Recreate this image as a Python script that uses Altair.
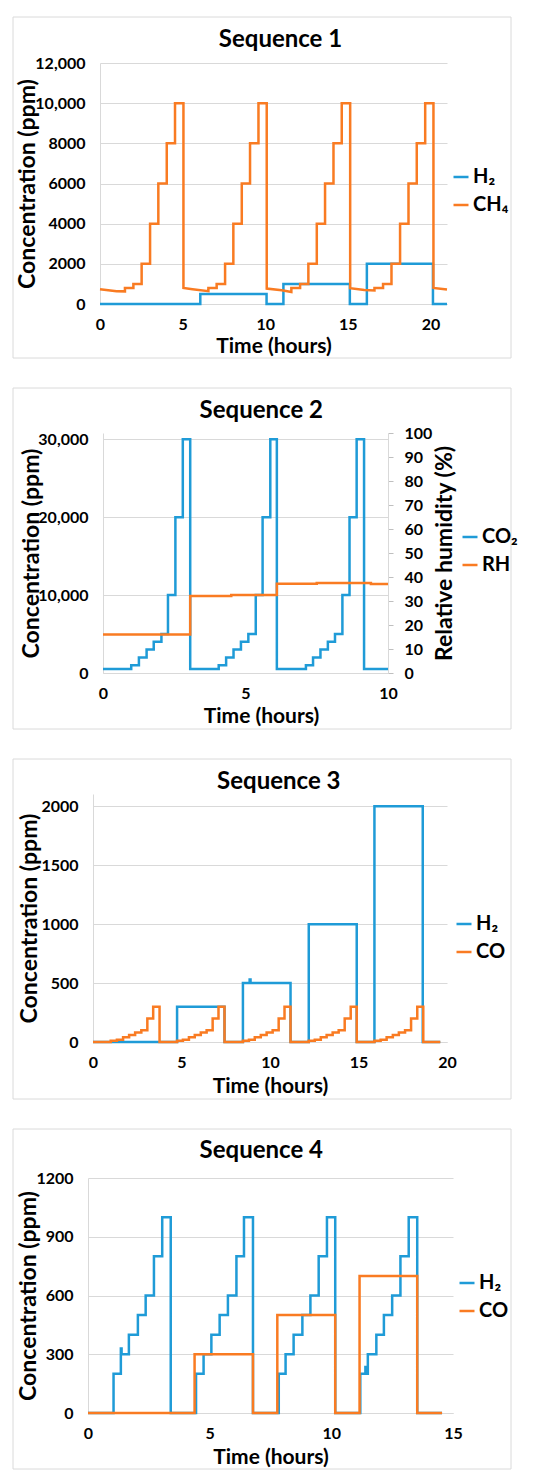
import altair as alt
import pandas as pd

BLUE = "#1F9BD7"
ORANGE = "#F97B22"
GRID = "#D9D9D9"
BOX = "#DADADA"
FONT = "Lato, Noto Sans, sans-serif"

# ---------------- Sequence 1 ----------------
s1_h2_t = [0, 6.07, 10.08, 11.1, 15.12, 16.15, 20.15, 21.0]
s1_h2_v = [0, 500, 0, 1000, 0, 2000, 0, 0]

s1_ch4_t = [0, 1.0, 1.51, 1.51, 2.02, 2.02, 2.52, 2.52, 3.03, 3.03, 3.53, 3.53, 4.04, 4.04, 4.54, 4.54, 5.05, 5.05,
            5.6, 6.56, 6.56, 7.06, 7.06, 7.57, 7.57, 8.07, 8.07, 8.58, 8.58, 9.08, 9.08, 9.59, 9.59, 10.09, 10.09,
            11.0, 11.58, 11.58, 12.11, 12.11, 12.61, 12.61, 13.12, 13.12, 13.62, 13.62, 14.13, 14.13, 14.63, 14.63, 15.14, 15.14,
            16.0, 16.61, 16.61, 17.13, 17.13, 17.64, 17.64, 18.16, 18.16, 18.67, 18.67, 19.17, 19.17, 19.68, 19.68, 20.18, 20.18,
            21.0]
s1_ch4_v = [730, 640, 630, 800, 800, 1000, 1000, 2000, 2000, 4000, 4000, 6000, 6000, 8000, 8000, 10000, 10000, 800,
            740, 640, 800, 800, 1000, 1000, 2000, 2000, 4000, 4000, 6000, 6000, 8000, 8000, 10000, 10000, 770,
            680, 600, 800, 800, 1000, 1000, 2000, 2000, 4000, 4000, 6000, 6000, 8000, 8000, 10000, 10000, 790,
            700, 670, 800, 800, 1000, 1000, 2000, 2000, 4000, 4000, 6000, 6000, 8000, 8000, 10000, 10000, 800,
            720]

# ---------------- Sequence 2 ----------------
s2_co2_t = [0, 0.99, 1.26, 1.53, 1.78, 2.05, 2.28, 2.54, 2.8, 3.06,
            4.06, 4.32, 4.58, 4.84, 5.1, 5.36, 5.6, 5.87, 6.1,
            7.12, 7.37, 7.63, 7.89, 8.14, 8.4, 8.65, 8.9, 9.16, 10.0]
s2_co2_v = [500, 1000, 2000, 3000, 4000, 5000, 10000, 20000, 30000, 500,
            1000, 2000, 3000, 4000, 5000, 10000, 20000, 30000, 500,
            1000, 2000, 3000, 4000, 5000, 10000, 20000, 30000, 500, 500]
s2_rh_t = [0, 3.06, 4.5, 6.1, 7.5, 9.4, 10.0]
s2_rh_v = [16.0, 32.1, 32.5, 37.2, 37.5, 37.1, 37.1]

# ---------------- Sequence 3 ----------------
s3_h2_t = [0, 4.75, 7.43, 8.47, 8.85, 8.9, 11.16, 12.19, 14.9, 15.9, 18.63, 19.62]
s3_h2_v = [0, 300, 0, 500, 530, 500, 0, 1000, 0, 2000, 0, 0]
s3_co_t = [0, 1.0, 1.35, 1.7, 2.04, 2.38, 2.73, 3.07, 3.4, 3.76,
           4.75, 5.08, 5.42, 5.75, 6.09, 6.42, 6.76, 7.09, 7.43,
           8.47, 8.81, 9.14, 9.48, 9.81, 10.15, 10.49, 10.82, 11.16,
           12.19, 12.53, 12.87, 13.2, 13.54, 13.88, 14.22, 14.56, 14.9,
           15.9, 16.25, 16.59, 16.94, 17.28, 17.63, 17.97, 18.32, 18.66, 19.62]
s3_co_v = [0, 10, 20, 40, 60, 80, 100, 200, 300, 0,
           10, 20, 40, 60, 80, 100, 200, 300, 0,
           10, 20, 40, 60, 80, 100, 200, 300, 0,
           10, 20, 40, 60, 80, 100, 200, 300, 0,
           10, 20, 40, 60, 80, 100, 200, 300, 0, 0]

# ---------------- Sequence 4 ----------------
s4_h2_t = [0, 1.05, 1.35, 1.38, 1.68, 2.05, 2.37, 2.71, 3.05, 3.4,
           4.44, 4.75, 5.07, 5.41, 5.75, 6.1, 6.41, 6.78,
           7.84, 8.12, 8.45, 8.81, 9.14, 9.48, 9.82, 10.16,
           11.19, 11.4, 11.43, 11.5, 11.85, 12.16, 12.5, 12.84, 13.18, 13.53, 14.55]
s4_h2_v = [0, 200, 330, 300, 400, 500, 600, 800, 1000, 0,
           200, 300, 400, 500, 600, 800, 1000, 0,
           200, 300, 400, 500, 600, 800, 1000, 0,
           200, 235, 200, 300, 400, 500, 600, 800, 1000, 0, 0]
s4_co_t = [0, 4.38, 6.78, 7.78, 10.16, 11.16, 13.53, 14.55]
s4_co_v = [0, 300, 0, 500, 0, 700, 0, 0]


def frame(times, values, name):
    return pd.DataFrame({"t": times, "v": values, "s": name, "i": list(range(len(times)))})


def box(x1, x2, y1, y2):
    return alt.Chart(pd.DataFrame({"k": [0]})).mark_rect(
        fillOpacity=0, stroke=BOX, strokeWidth=1
    ).encode(x=alt.value(x1), x2=alt.value(x2), y=alt.value(y1), y2=alt.value(y2))


def heading(text, x, y):
    return alt.Chart(pd.DataFrame({"k": [0]})).mark_text(
        text=text, font=FONT, fontSize=24, fontWeight="bold", color="#000000",
        align="center", baseline="middle"
    ).encode(x=alt.value(x), y=alt.value(y))


def spacer():
    return alt.Chart(pd.DataFrame({"k": [0]})).mark_point(opacity=0, size=1, strokeWidth=0).encode(
        x=alt.value(0), y=alt.value(0)
    ).properties(width=1, height=1)


def xenc(dmax, vals, ty, tx=None):
    ax = dict(values=vals, title="Time (hours)", grid=False, ticks=False, labelPadding=12,
              titleY=ty, titleBaseline="middle", labelFlush=False)
    if tx is not None:
        ax["titleX"] = tx
    return alt.X("t:Q", scale=alt.Scale(domain=[0, dmax], nice=False, zero=False), axis=alt.Axis(**ax))


def yenc(dmax, vals, h, tx, label_expr=None, fmt="d"):
    ax = dict(values=vals, title="Concentration (ppm)", grid=True, ticks=False, labelPadding=15,
              titleX=tx, titleY=h / 2, titleBaseline="middle", labelFlush=False, format=fmt,
              titleFontSize=23)
    if label_expr:
        ax["labelExpr"] = label_expr
    return alt.Y("v:Q", scale=alt.Scale(domain=[0, dmax], nice=False), axis=alt.Axis(**ax))


def color(dom, lx, ly):
    return alt.Color("s:N", scale=alt.Scale(domain=dom, range=[BLUE, ORANGE]),
                     legend=alt.Legend(title=None, orient="none", legendX=lx, legendY=ly))


# Panel 1
W1, H1 = 347, 241
c1 = color(["H₂", "CH₄"], 351, 104)
x1 = xenc(21, [0, 5, 10, 15, 20], 42)
y1 = yenc(12000, [0, 2000, 4000, 6000, 8000, 10000, 12000], H1, -73,
          label_expr="datum.value >= 10000 ? format(datum.value, ',') : format(datum.value, 'd')")
p1 = alt.layer(
    box(-87, 411, -46, 295),
    heading("Sequence 1", 180.5, -23),
    alt.Chart(frame(s1_h2_t, s1_h2_v, "H₂")).mark_line(interpolate="step-after", strokeWidth=2.5)
    .encode(x=x1, y=y1, color=c1, order="i:Q"),
    alt.Chart(frame(s1_ch4_t, s1_ch4_v, "CH₄")).mark_line(strokeWidth=2.5)
    .encode(x=x1, y=y1, color=c1, order="i:Q"),
).properties(width=W1, height=H1)

# Panel 2
W2, H2 = 285, 240
c2 = color(["CO₂", "RH"], 357, 94)
x2 = xenc(10, [0, 5, 10], 43, tx=158)
y2 = yenc(30800, [0, 10000, 20000, 30000], H2, -72, fmt=",d")
y2r = alt.Y("v:Q", scale=alt.Scale(domain=[0, 100], nice=False),
            axis=alt.Axis(orient="right", values=list(range(0, 101, 10)), title="Relative humidity (%)",
                          grid=False, ticks=True, tickSize=5, tickColor="#BFBFBF", labelPadding=11,
                          titleX=56, titleY=H2 / 2, titleBaseline="middle", titleAngle=270,
                          labelFlush=False, format="d", titleFontSize=23))
p2 = alt.layer(
    box(-90, 408, -45, 296),
    heading("Sequence 2", 158.3, -22),
    alt.Chart(frame(s2_co2_t, s2_co2_v, "CO₂")).mark_line(interpolate="step-after", strokeWidth=2.5)
    .encode(x=x2, y=y2, color=c2, order="i:Q"),
    alt.Chart(frame(s2_rh_t, s2_rh_v, "RH")).mark_line(interpolate="step-after", strokeWidth=2.5)
    .encode(x=x2, y=y2r, color=c2, order="i:Q"),
).resolve_scale(y="independent").properties(width=W2, height=H2)

# Panel 3
W3, H3 = 354, 248
c3 = color(["H₂", "CO"], 361, 120)
x3 = xenc(20, [0, 5, 10, 15, 20], 44)
y3 = yenc(2105, [0, 500, 1000, 1500, 2000], H3, -64)
p3 = alt.layer(
    box(-80, 418, -35, 305),
    heading("Sequence 3", 185.8, -12),
    alt.Chart(frame(s3_h2_t, s3_h2_v, "H₂")).mark_line(interpolate="step-after", strokeWidth=2.5)
    .encode(x=x3, y=y3, color=c3, order="i:Q"),
    alt.Chart(frame(s3_co_t, s3_co_v, "CO")).mark_line(interpolate="step-after", strokeWidth=2.5)
    .encode(x=x3, y=y3, color=c3, order="i:Q"),
).properties(width=W3, height=H3)

# Panel 4
W4, H4 = 365, 235
c4 = color(["H₂", "CO"], 369, 95)
x4 = xenc(15, [0, 5, 10, 15], 44)
y4 = yenc(1200, [0, 300, 600, 900, 1200], H4, -60)
p4 = alt.layer(
    box(-75, 423, -49, 291),
    heading("Sequence 4", 173.3, -27),
    alt.Chart(frame(s4_h2_t, s4_h2_v, "H₂")).mark_line(interpolate="step-after", strokeWidth=2.5)
    .encode(x=x4, y=y4, color=c4, order="i:Q"),
    alt.Chart(frame(s4_co_t, s4_co_v, "CO")).mark_line(interpolate="step-after", strokeWidth=2.5)
    .encode(x=x4, y=y4, color=c4, order="i:Q"),
).properties(width=W4, height=H4)

rows = [alt.hconcat(spacer(), p, spacing=0).resolve_scale(color="independent") for p in (p1, p2, p3, p4)]
chart = alt.vconcat(*rows, spacing=28).resolve_scale(
    color="independent"
).properties(
    padding={"left": 1, "top": 8, "right": 4, "bottom": 4}
).configure_view(stroke="transparent").configure_axis(
    labelFont=FONT, labelFontWeight="bold", labelFontSize=16, labelColor="#000000",
    titleFont=FONT, titleFontWeight="bold", titleFontSize=21, titleColor="#000000",
    gridColor=GRID, domainColor=GRID, gridWidth=1
).configure_legend(
    labelFont=FONT, labelFontSize=20, labelFontWeight="bold", labelColor="#000000",
    symbolType="stroke", symbolStrokeWidth=2.5, symbolSize=225, rowPadding=8, labelOffset=2
)

chart.save("out.html", embed_options={"renderer": "svg", "actions": False})
